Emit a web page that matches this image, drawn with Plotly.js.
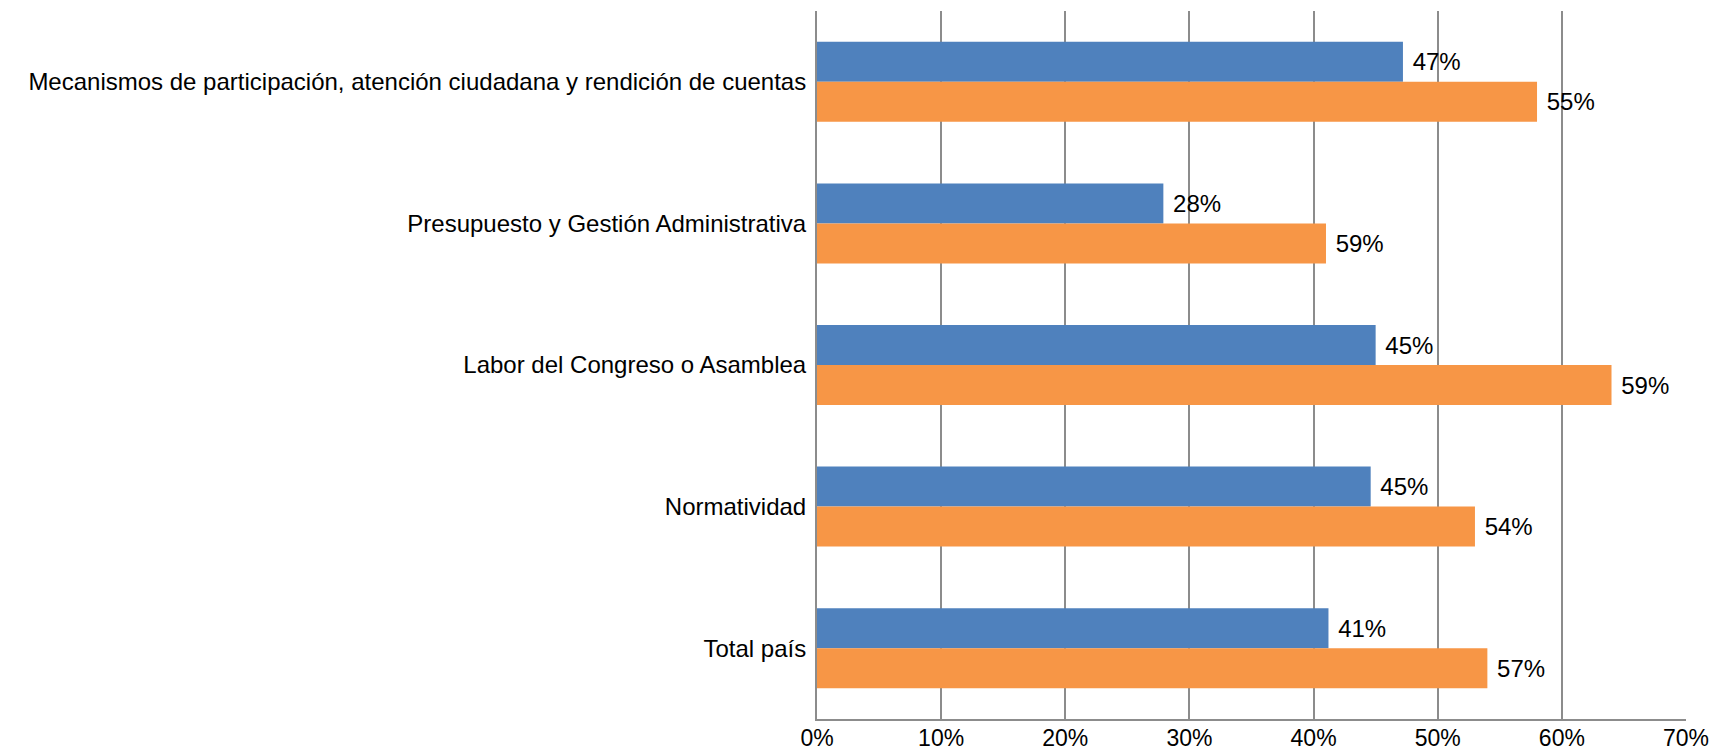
<!DOCTYPE html>
<html>
<head>
<meta charset="utf-8">
<script src="https://cdn.plot.ly/plotly-3.0.1.min.js"></script>
<style>html,body{margin:0;padding:0;background:#fff}#chart{width:1711px;height:753px}</style>
</head>
<body>
<div id="chart"></div>
<script>
var categories = [
  "Mecanismos de participación, atención ciudadana y rendición de cuentas",
  "Presupuesto y Gestión Administrativa",
  "Labor del Congreso o Asamblea",
  "Normatividad",
  "Total país"
];
var blueValues = [47.2, 27.9, 45.0, 44.6, 41.2];
var orangeValues = [58.0, 41.0, 64.0, 53.0, 54.0];
var blueLabels = ["47%", "28%", "45%", "45%", "41%"];
var orangeLabels = ["55%", "59%", "59%", "54%", "57%"];
var xTickValues = [0, 10, 20, 30, 40, 50, 60, 70];
var xTickLabels = ["0%", "10%", "20%", "30%", "40%", "50%", "60%", "70%"];

var labelFont = {family: "Liberation Sans, Arial, sans-serif", size: 24, color: "#000"};
var xTickFont = {family: "Liberation Sans, Arial, sans-serif", size: 23, color: "#000"};

var traces = [
  {type: "bar", orientation: "h", y: categories, x: blueValues, text: blueLabels,
   texttemplate: " %{text}", textposition: "outside", cliponaxis: false, constraintext: "none",
   textfont: labelFont, marker: {color: "#4F81BD"}, hoverinfo: "skip", name: "Serie 1"},
  {type: "bar", orientation: "h", y: categories, x: orangeValues, text: orangeLabels,
   texttemplate: " %{text}", textposition: "outside", cliponaxis: false, constraintext: "none",
   textfont: labelFont, marker: {color: "#F79646"}, hoverinfo: "skip", name: "Serie 2"}
];

var layout = {
  width: 1711, height: 753,
  margin: {l: 817, r: 25, t: 11, b: 34},
  paper_bgcolor: "#fff", plot_bgcolor: "#fff",
  showlegend: false,
  barmode: "group", bargap: 0.435, bargroupgap: 0,
  font: labelFont,
  xaxis: {
    range: [0, 70], tickmode: "array", tickvals: xTickValues, ticktext: xTickLabels,
    showgrid: true, gridcolor: "#8c8c8c", gridwidth: 2,
    showline: true, linecolor: "#8c8c8c", linewidth: 2,
    zeroline: false, ticks: "", tickfont: xTickFont, ticklabelstandoff: -3, fixedrange: true
  },
  yaxis: {
    autorange: "reversed", type: "category",
    showgrid: false, showline: true, linecolor: "#8c8c8c", linewidth: 2,
    zeroline: false, ticks: "", tickfont: labelFont, ticklabelstandoff: 4, fixedrange: true
  }
};

Plotly.newPlot("chart", traces, layout, {displayModeBar: false, staticPlot: true});
</script>
</body>
</html>
